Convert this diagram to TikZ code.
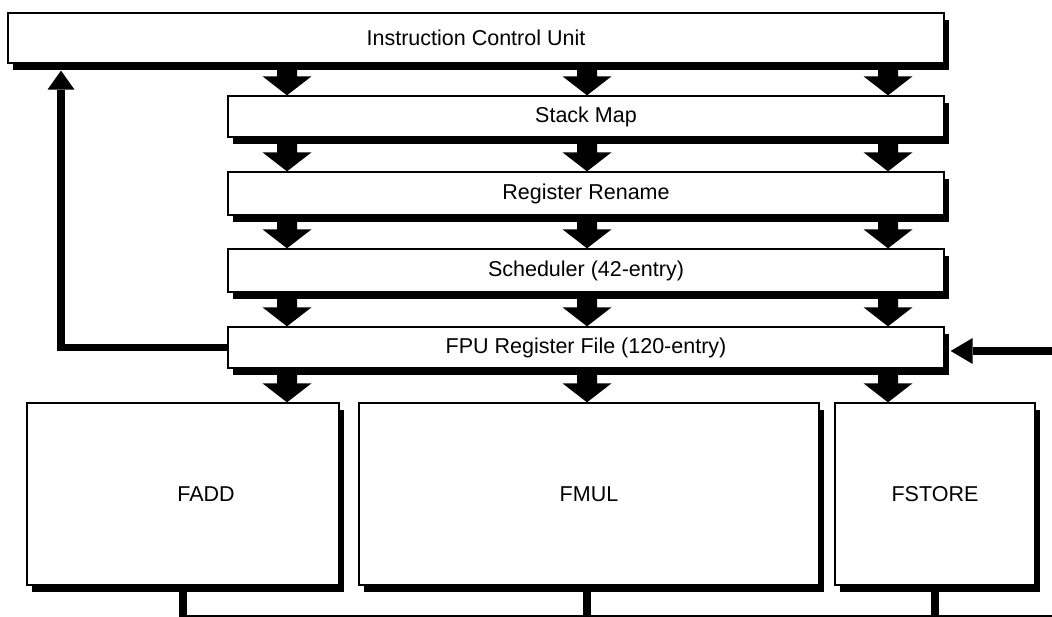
\documentclass[tikz,border=0pt]{standalone}
\usepackage{fontspec}
\setmainfont{Liberation Sans}
\usetikzlibrary{shadows,calc,arrows.meta}

\tikzset{
  unit/.style={draw=black, fill=white, line width=1.3pt, inner sep=0pt,
    font=\fontsize{21.5}{26}\selectfont,
    general shadow={fill=black, shadow xshift=5pt, shadow yshift=-7pt}},
  labeltext/.style={inner sep=0pt, font=\fontsize{21.5}{26}\selectfont},
  feedback/.style={line width=7.5pt, line join=miter,
    -{Triangle[width=27pt,length=19pt,line width=0pt]}},
  incoming/.style={line width=7.5pt,
    -{Triangle[width=26pt,length=22pt,line width=0pt]}},
  busline/.style={line width=1.2pt},
  stub/.style={line width=8pt},
}

% wide block arrow in column #1 from the bottom of node #2 to the top of node #3
\newcommand\blockarrow[3]{%
  \fill ($(#2.south -| #1)+(-10,0)$) -- ($(#2.south -| #1)+(10,0)$)
    -- ($(#3.north -| #1)+(10,19)$) -- ($(#3.north -| #1)+(24.5,19)$)
    -- (#3.north -| #1)
    -- ($(#3.north -| #1)+(-24.5,19)$) -- ($(#3.north -| #1)+(-10,19)$) -- cycle;}

\begin{document}
\begin{tikzpicture}[x=1pt,y=1pt]
  \useasboundingbox (0,0) rectangle (1052,617);

  % pipeline stages
  \node[unit, minimum width=936pt, minimum height=50pt] (icu)   at (476,579)   {Instruction Control Unit};
  \node[unit, minimum width=716pt, minimum height=41pt] (smap)  at (586,500.5) {Stack Map};
  \node[unit, minimum width=716pt, minimum height=43pt] (rren)  at (586,423.5) {Register Rename};
  \node[unit, minimum width=716pt, minimum height=43pt] (sched) at (586,346.5) {Scheduler (42-entry)};
  \node[unit, minimum width=716pt, minimum height=41pt] (fpu)   at (586,269.5) {FPU Register File (120-entry)};

  % execution units
  \node[unit, minimum width=312pt, minimum height=182pt] (fadd)   at (183,123) {};
  \node[labeltext] (faddtext) at (206,123) {FADD};
  \node[unit, minimum width=460pt, minimum height=182pt] (fmul)   at (589,123) {FMUL};
  \node[unit, minimum width=200pt, minimum height=182pt] (fstore) at (935,123) {FSTORE};

  % arrow columns
  \coordinate (colA) at (287,0);
  \coordinate (colB) at (587,0);
  \coordinate (colC) at (888,0);

  \foreach \upper/\lower in {icu/smap, smap/rren, rren/sched, sched/fpu}{
    \blockarrow{colA}{\upper}{\lower}
    \blockarrow{colB}{\upper}{\lower}
    \blockarrow{colC}{\upper}{\lower}
  }
  \blockarrow{colA}{fpu}{fadd}
  \blockarrow{colB}{fpu}{fmul}
  \blockarrow{colC}{fpu}{fstore}

  % feedback path to the instruction control unit
  \coordinate (fbx) at (61,0);
  \draw[feedback] (fpu.west) -| ($(icu.south -| fbx)+(0,-7)$);

  % external input to the register file
  \coordinate (ext) at (1052,266);
  \draw[incoming] (ext) -- ($(ext -| fpu.east)+(6,0)$);

  % result bus
  \coordinate (busR) at (1052,1);
  \draw[stub] (fadd.south) -- (fadd.south |- busR);
  \draw[stub] (colB |- fmul.south) -- (colB |- busR);
  \draw[stub] (fstore.south) -- (fstore.south |- busR);
  \draw[busline] ($(fadd.south |- busR)+(-4,0)$) -- (busR);
\end{tikzpicture}
\end{document}
